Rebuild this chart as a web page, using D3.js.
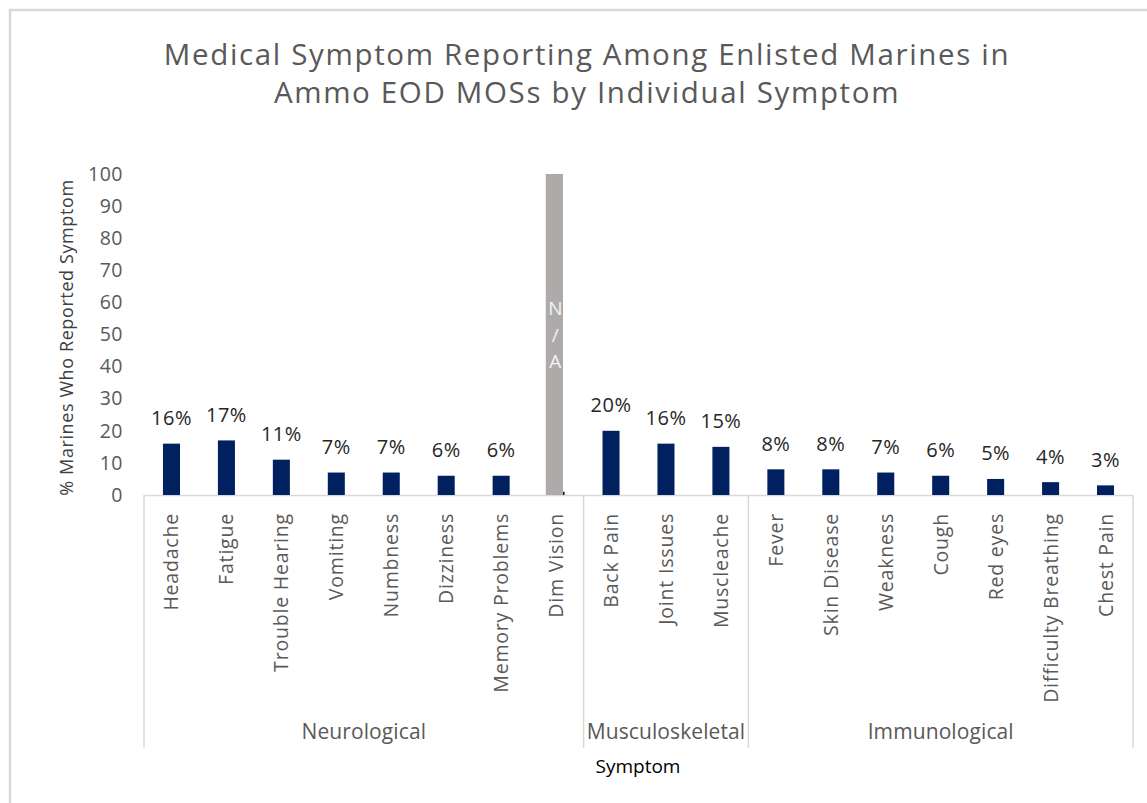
<!DOCTYPE html>
<html>
<head>
<meta charset="utf-8">
<script src="https://cdn.jsdelivr.net/npm/d3@7"></script>
<style>
  html, body { margin: 0; padding: 0; background: #ffffff; }
  svg { display: block; font-family: "Open Sans", "Liberation Sans", sans-serif; }
</style>
</head>
<body>
<svg id="chart" width="1147" height="803"></svg>
<script>
// Symptoms, in plotting order
const categories = [
  "Headache", "Fatigue", "Trouble Hearing", "Vomiting", "Numbness", "Dizziness",
  "Memory Problems", "Dim Vision",
  "Back Pain", "Joint Issues", "Muscleache",
  "Fever", "Skin Disease", "Weakness", "Cough", "Red eyes", "Difficulty Breathing", "Chest Pain"
];
// Body-system groups and how many symptoms each covers
const groupNames = ["Neurological", "Musculoskeletal", "Immunological"];
const groupSizes = [8, 3, 7];
// % of Marines who reported each symptom (Dim Vision has no labelled value)
const reported = [16, 17, 11, 7, 7, 6, 6, 1, 20, 16, 15, 8, 8, 7, 6, 5, 4, 3];
const reportedLabels = ["16%", "17%", "11%", "7%", "7%", "6%", "6%", "", "20%", "16%", "15%", "8%", "8%", "7%", "6%", "5%", "4%", "3%"];
// Symptom not asked about: full-height placeholder bar
const notAvailable = [{ category: "Dim Vision", value: 100, text: ["N", "/", "A"] }];
// Y axis ticks
const yTicks = [0, 10, 20, 30, 40, 50, 60, 70, 80, 90, 100];

const titleLines = ["Medical Symptom Reporting Among Enlisted Marines in", "Ammo EOD MOSs by Individual Symptom"];
const yTitle = "% Marines Who Reported Symptom";
const xTitle = "Symptom";

const svg = d3.select("#chart");

// chart frame
svg.append("rect")
  .attr("x", 10).attr("y", 10)
  .attr("width", 1200).attr("height", 900)
  .attr("fill", "#ffffff")
  .attr("stroke", "#d9d9d9").attr("stroke-width", 2.5);

const plotLeft = 144, plotRight = 1133, plotTop = 174, plotBottom = 495, groupBottom = 748;

const x = d3.scaleBand()
  .domain(categories)
  .range([plotLeft, plotRight])
  .paddingInner(0.69)
  .paddingOuter(0.345);

const y = d3.scaleLinear().domain([0, 100]).range([plotBottom, plotTop]);

// title
svg.append("g").selectAll("text")
  .data(titleLines)
  .join("text")
  .attr("x", 587)
  .attr("y", (d, i) => 65 + i * 37.5)
  .attr("text-anchor", "middle")
  .attr("fill", "#595959")
  .attr("font-size", 29.5)
  .attr("letter-spacing", 1.65)
  .text(d => d);

// y axis (labels only)
const yAxis = svg.append("g")
  .attr("transform", `translate(${plotLeft},0)`)
  .call(d3.axisLeft(y).tickValues(yTicks).tickSize(0).tickPadding(21));
yAxis.select(".domain").remove();
yAxis.selectAll("text")
  .attr("font-family", "\"Open Sans\", sans-serif")
  .attr("font-size", 19.5)
  .attr("letter-spacing", 0.5)
  .attr("fill", "#595959");

// y axis title
svg.append("text")
  .attr("transform", `translate(73,${(plotBottom + 180) / 2}) rotate(-90)`)
  .attr("text-anchor", "middle")
  .attr("font-size", 18)
  .attr("letter-spacing", 0.6)
  .attr("fill", "#404040")
  .text(yTitle);

// category axis
const xAxis = svg.append("g")
  .attr("transform", `translate(0,${plotBottom})`)
  .call(d3.axisBottom(x).tickSize(0).tickSizeOuter(0));
xAxis.select(".domain").attr("stroke", "#d9d9d9").attr("stroke-width", 1.5);
xAxis.selectAll(".tick text")
  .attr("font-family", "\"Open Sans\", sans-serif")
  .attr("font-size", 19.5)
  .attr("letter-spacing", 0.8)
  .attr("fill", "#595959")
  .attr("text-anchor", "end")
  .attr("y", 0)
  .attr("dy", 0)
  .attr("x", 0)
  .attr("transform", "translate(7,18) rotate(-90)");

// group separators
const step = x.step();
const half = step * x.paddingInner() / 2;
let start = 0;
const groupSpans = groupSizes.map((n, i) => {
  const a = x(categories[start]) - half;
  const b = x(categories[start + n - 1]) + x.bandwidth() + half;
  start += n;
  return { name: groupNames[i], a, b };
});
const boundaries = [groupSpans[0].a].concat(groupSpans.map(g => g.b));
svg.append("g").selectAll("line")
  .data(boundaries)
  .join("line")
  .attr("x1", d => d).attr("x2", d => d)
  .attr("y1", plotBottom).attr("y2", groupBottom)
  .attr("stroke", "#d9d9d9").attr("stroke-width", 1.5);

svg.append("g").selectAll("text")
  .data(groupSpans)
  .join("text")
  .attr("x", d => (d.a + d.b) / 2)
  .attr("y", 739)
  .attr("text-anchor", "middle")
  .attr("font-size", 21)
  .attr("letter-spacing", 0.1)
  .attr("fill", "#595959")
  .text(d => d.name);

// x axis title
svg.append("text")
  .attr("x", 638)
  .attr("y", 773)
  .attr("text-anchor", "middle")
  .attr("font-size", 19)
  .attr("fill", "#000000")
  .text(xTitle);

// bars
svg.append("g").selectAll("rect")
  .data(categories.map((c, i) => ({ c, v: reported[i] })))
  .join("rect")
  .attr("x", d => x(d.c))
  .attr("y", d => y(d.v))
  .attr("width", x.bandwidth())
  .attr("height", d => y(0) - y(d.v))
  .attr("fill", "#002060");

// placeholder bar for symptoms with no data
const na = svg.append("g");
na.selectAll("rect")
  .data(notAvailable)
  .join("rect")
  .attr("x", d => x(d.category) - 1.8)
  .attr("y", d => y(d.value))
  .attr("width", x.bandwidth() + 0.2)
  .attr("height", d => y(0) - y(d.value))
  .attr("fill", "#aeaaaa");
notAvailable.forEach(d => {
  na.append("g").selectAll("text")
    .data(d.text)
    .join("text")
    .attr("x", x(d.category) + x.bandwidth() / 2 - 0.8)
    .attr("y", (t, i) => 315 + i * 26.5)
    .attr("text-anchor", "middle")
    .attr("font-size", 19)
    .attr("fill", "#f2f2f2")
    .text(t => t);
});

// value labels
svg.append("g").selectAll("text")
  .data(categories.map((c, i) => ({ c, v: reported[i], t: reportedLabels[i] })).filter(d => d.t))
  .join("text")
  .attr("x", d => x(d.c) + x.bandwidth() / 2)
  .attr("y", d => y(d.v) - 18.5)
  .attr("text-anchor", "middle")
  .attr("font-size", 20)
  .attr("letter-spacing", 0.5)
  .attr("fill", "#262626")
  .text(d => d.t);
</script>
</body>
</html>
